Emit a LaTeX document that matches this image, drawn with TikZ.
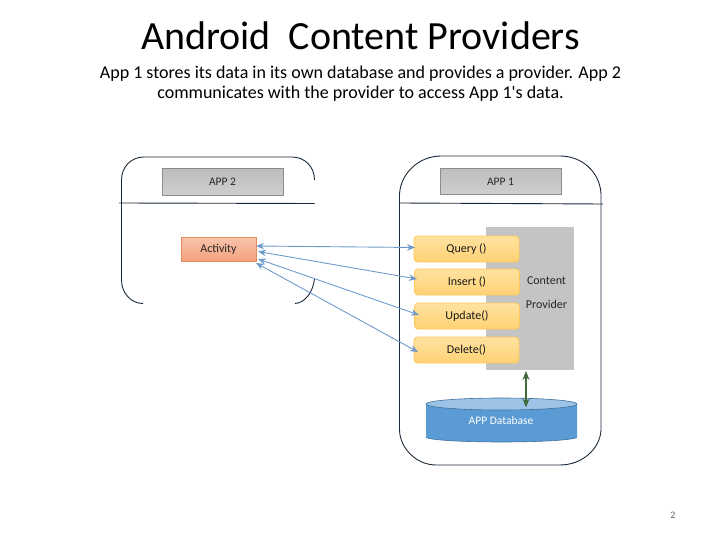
\documentclass[tikz,border=0pt]{standalone}
\usepackage{fontspec}
\setmainfont{Carlito}
\newfontfamily\plainquote{Carlito}
\usetikzlibrary{arrows.meta}
\definecolor{frameC}{HTML}{1A2A3A}
\definecolor{arrowC}{HTML}{6F9BCB}
\definecolor{dbC}{HTML}{5B9BD5}
\definecolor{dbTop}{HTML}{9DC3E6}
\definecolor{dbLine}{HTML}{41719C}
\definecolor{actTop}{HTML}{F8C4AC}
\definecolor{actBot}{HTML}{F4A27E}
\definecolor{actLine}{HTML}{E5895E}
\definecolor{metTop}{HTML}{FFE2A0}
\definecolor{metBot}{HTML}{FFD274}
\definecolor{metLine}{HTML}{FFC65A}
\definecolor{hdrTop}{HTML}{BDBDBD}
\definecolor{hdrBot}{HTML}{CFCFCF}
\definecolor{greenC}{HTML}{3F6B3A}
\tikzset{
  frameline/.style={draw=frameC,line width=0.9pt},
  header/.style={draw=black!45,line width=0.6pt,top color=hdrTop,bottom color=hdrBot,minimum width=121pt,minimum height=26.5pt,inner sep=0pt,font=\fontsize{11.5}{14}\selectfont,text=black!85},
  activitybox/.style={draw=actLine,line width=0.6pt,top color=actTop,bottom color=actBot,minimum width=75pt,minimum height=24pt,inner sep=0pt,font=\fontsize{12}{14}\selectfont,text=black!85},
  method/.style={draw=metLine,line width=0.8pt,rounded corners=3.5pt,top color=metTop,bottom color=metBot,minimum width=105pt,minimum height=26pt,inner sep=0pt,font=\fontsize{12}{14}\selectfont,text=black!90},
  bothways/.style={draw=arrowC,line width=0.9pt,{Stealth[length=8pt,width=6.5pt]}-{Stealth[length=8pt,width=6.5pt]}},
  greenway/.style={draw=greenC,line width=1.1pt,{Stealth[length=9pt,width=7pt]}-{Stealth[length=9pt,width=7pt]}},
}
\begin{document}
\begin{tikzpicture}[x=1pt,y=-1pt]
\useasboundingbox (0,0) rectangle (720,540);
\node (title) at (360.5,35.5) {\fontsize{40}{44}\selectfont Android\ \ Content Providers};
\node[align=center,font=\fontsize{18}{20}\selectfont] (sub) at (360.5,83.5) {App 1 stores its data in its own database and provides a provider. App 2\\communicates with the provider to access App 1{\plainquote '}s data.};
\node[text=black!60,font=\fontsize{10}{12}\selectfont] (pg) at (673,515) {2};
% left frame
\draw[frameline] (314.5,180) .. controls (314.5,166) and (304,157) .. (292,157) -- (144,157) .. controls (131,157) and (121.5,167) .. (121.5,180) -- (121.5,280) .. controls (121.5,293) and (131,303.5) .. (143,303.5);
\draw[frameline] (314.5,279) .. controls (313,292) and (305,303) .. (295,303.5);
\coordinate (l1) at (119,203); \coordinate (l2) at (314.5,203.5);
\draw[frameline] (l1) -- (l2);
% right frame
\draw[frameline] (399.5,194) .. controls (401,172) and (420,156) .. (441,156) -- (560,156) .. controls (582,156) and (600,172) .. (601,194) -- (601,430) .. controls (600,449) and (582,465) .. (560,465) -- (436,465) .. controls (417,465) and (400,449) .. (399.5,430) -- cycle;
\coordinate (r1) at (399.5,203); \coordinate (r2) at (603,204);
\draw[frameline] (r1) -- (r2);
% headers
\node[header] (app2) at (222.5,182) {APP 2};
\node[header] (app1) at (500.5,181.5) {APP 1};
% content provider
\node[fill=black!23,minimum width=88pt,minimum height=143pt,inner sep=0pt] (cp) at (530,298.5) {};
\node[font=\fontsize{12}{14}\selectfont,text=black!85] (cpa) at (546.5,281) {Content};
\node[font=\fontsize{12}{14}\selectfont,text=black!85] (cpb) at (546.5,304.5) {Provider};
% activity
\node[activitybox] (act) at (218.5,249) {Activity};
% methods
\node[method] (q) at (466.5,249) {Query ()};
\node[method] (i) at (467,282) {Insert ()};
\node[method] (u) at (467,316) {Update()};
\node[method] (d) at (466.5,350) {Delete()};
% database
\fill[dbC] (426,404) -- (426,437) arc[start angle=180,end angle=360,x radius=75.5,y radius=-5] -- (577,404) -- cycle;
\draw[dbLine,line width=0.6pt] (426,437) arc[start angle=180,end angle=360,x radius=75.5,y radius=-5];
\fill[dbTop,draw=dbLine,line width=0.6pt] (501.5,404) ellipse[x radius=75.5,y radius=6];
\node[text=white,font=\fontsize{11.5}{13}\selectfont] (db) at (501,420.5) {APP Database};
\coordinate (dbt) at (526,407.5);
% connectors
\coordinate (a0) at (256,246); \coordinate (a1) at (258,251.5); \coordinate (a2) at (258,259); \coordinate (a3) at (256,263);
\coordinate (m0) at (415,247.5); \coordinate (m1) at (417,279); \coordinate (m2) at (419,315); \coordinate (m3) at (418,352);
\draw[bothways] (a0) -- (m0);
\draw[bothways] (a1) -- (m1);
\draw[bothways] (a2) -- (m2);
\draw[bothways] (a3) -- (m3);
\coordinate (cpb2) at (526,371);
\draw[greenway] (cpb2) -- (dbt);
\end{tikzpicture}
\end{document}
